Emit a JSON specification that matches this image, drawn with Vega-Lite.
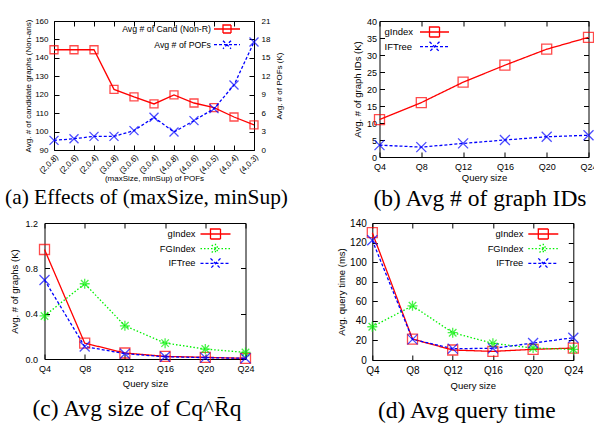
{
  "$schema": "https://vega.github.io/schema/vega-lite/v6.json",
  "padding": {"left": 4.5, "top": 16, "right": 0, "bottom": 0},
  "config": {
    "view": {"stroke": "black", "strokeWidth": 1},
    "font": "Liberation Sans",
    "axis": {"grid": false, "domain": false, "minExtent": 0, "tickColor": "black", "tickSize": -5, "labelPadding": 10, "labelFont": "Liberation Sans", "labelFontSize": 9, "labelColor": "black", "titleFont": "Liberation Sans", "titleFontSize": 9.5, "titleFontWeight": "normal", "titleColor": "black", "titlePadding": 4},
    "axisX": {"labelAngle": 0},
    "title": {"font": "Liberation Serif", "fontSize": 23.5, "fontWeight": "normal", "orient": "bottom", "color": "black", "frame": "group"},
    "legend": {"title": null, "labelFont": "Liberation Sans", "labelFontSize": 9.3, "labelColor": "black", "symbolSize": 100, "symbolStrokeWidth": 1.3, "rowPadding": -1.3, "padding": 0, "offset": 5}
  },
  "resolve": {"scale": {"color": "independent", "strokeDash": "independent", "shape": "independent"}, "legend": {"color": "independent"}},
  "spacing": 6,
  "vconcat": [
    {
      "resolve": {"scale": {"color": "independent", "strokeDash": "independent", "shape": "independent"}, "legend": {"color": "independent"}},
      "spacing": 63,
      "hconcat": [
        {
          "resolve": {"scale": {"color": "independent", "strokeDash": "independent", "shape": "independent"}, "legend": {"color": "independent"}},
          "spacing": -44.5,
          "hconcat": [
            {
              "width": 1, "height": 1,
              "view": {"stroke": null},
              "data": {"values": [{"v": 0}]},
              "mark": {"type": "point", "opacity": 0},
              "encoding": {}
            },
            {
              "width": 200, "height": 129,
              "title": {"text": "(a) Effects of (maxSize, minSup)", "fontSize": 21.4, "dx": -7.5, "offset": 5},
              "data": {"values": [
                {"k": "(2,0.8)", "s": "Avg # of Cand (Non-R)", "v": 144.4},
                {"k": "(2,0.6)", "s": "Avg # of Cand (Non-R)", "v": 144.4},
                {"k": "(2,0.4)", "s": "Avg # of Cand (Non-R)", "v": 144.4},
                {"k": "(3,0.8)", "s": "Avg # of Cand (Non-R)", "v": 122.9},
                {"k": "(3,0.6)", "s": "Avg # of Cand (Non-R)", "v": 118.8},
                {"k": "(3,0.4)", "s": "Avg # of Cand (Non-R)", "v": 115.0},
                {"k": "(4,0.8)", "s": "Avg # of Cand (Non-R)", "v": 119.9},
                {"k": "(4,0.6)", "s": "Avg # of Cand (Non-R)", "v": 115.5},
                {"k": "(4,0.5)", "s": "Avg # of Cand (Non-R)", "v": 113.0},
                {"k": "(4,0.4)", "s": "Avg # of Cand (Non-R)", "v": 107.9},
                {"k": "(4,0.3)", "s": "Avg # of Cand (Non-R)", "v": 103.6},
                {"k": "(2,0.8)", "s": "Avg # of POFs", "v": 1.57},
                {"k": "(2,0.6)", "s": "Avg # of POFs", "v": 1.84},
                {"k": "(2,0.4)", "s": "Avg # of POFs", "v": 2.22},
                {"k": "(3,0.8)", "s": "Avg # of POFs", "v": 2.22},
                {"k": "(3,0.6)", "s": "Avg # of POFs", "v": 3.15},
                {"k": "(3,0.4)", "s": "Avg # of POFs", "v": 5.32},
                {"k": "(4,0.8)", "s": "Avg # of POFs", "v": 2.93},
                {"k": "(4,0.6)", "s": "Avg # of POFs", "v": 4.78},
                {"k": "(4,0.5)", "s": "Avg # of POFs", "v": 6.73},
                {"k": "(4,0.4)", "s": "Avg # of POFs", "v": 10.58},
                {"k": "(4,0.3)", "s": "Avg # of POFs", "v": 17.58}
              ]},
              "encoding": {
                "color": {"field": "s", "type": "nominal", "sort": null,
                  "scale": {"domain": ["Avg # of Cand (Non-R)", "Avg # of POFs"], "range": ["#ff0000", "#0000ff"]},
                  "legend": {"orient": "top-right", "offset": 3, "labelFontSize": 8.75, "symbolSize": 64, "rowPadding": 1.7,
                    "encode": {
                      "symbols": {"update": {
                        "x": {"value": 106},
                        "shape": {"signal": "datum.value == 'Avg # of Cand (Non-R)' ? 'M-3.25,0H3.25M-1,-1H1V1H-1ZM5.25,0' : 'M-3.25,0H3.25M-1,-1L1,1M1,-1L-1,1M5.25,0'"},
                        "strokeDash": {"signal": "datum.value == 'Avg # of POFs' ? [3,2] : [1,0]"}
                      }},
                      "labels": {"update": {"x": {"value": 90}, "align": {"value": "right"}}}
                    }}
                }
              },
              "layer": [
                {
                  "transform": [{"filter": "datum.s == 'Avg # of Cand (Non-R)'"}],
                  "encoding": {
                    "x": {"field": "k", "type": "ordinal", "sort": null, "scale": {"type": "point", "padding": 0},
                      "axis": {"labelAngle": -45, "title": "(maxSize, minSup) of POFs", "labelFontSize": 8, "titleFontSize": 8, "labelPadding": 8, "titlePadding": -1}},
                    "y": {"field": "v", "type": "quantitative", "scale": {"domain": [90, 160]},
                      "axis": {"values": [90, 100, 110, 120, 130, 140, 150, 160], "title": "Avg. # of candidate graphs (Non-ans)", "labelFontSize": 8, "titleFontSize": 8, "labelPadding": 11, "titlePadding": 2.5}}
                  },
                  "layer": [
                    {"mark": {"type": "line", "strokeWidth": 1.3}},
                    {"mark": {"type": "point", "shape": "M-1,-1H1V1H-1Z", "filled": false, "size": 64, "strokeWidth": 1.3}}
                  ]
                },
                {
                  "transform": [{"filter": "datum.s == 'Avg # of POFs'"}],
                  "encoding": {
                    "x": {"field": "k", "type": "ordinal", "sort": null, "scale": {"type": "point", "padding": 0},
                      "axis": {"orient": "top", "labels": false, "title": null}},
                    "y": {"field": "v", "type": "quantitative", "scale": {"domain": [0, 21]},
                      "axis": {"orient": "right", "values": [0, 3, 6, 9, 12, 15, 18, 21], "title": "Avg. # of POFs (K)", "titleAngle": 270, "titleBaseline": "top", "labelFontSize": 8, "titleFontSize": 8, "labelPadding": 12, "titlePadding": 6}}
                  },
                  "layer": [
                    {"mark": {"type": "line", "strokeWidth": 1.3, "strokeDash": [3, 2]}},
                    {"mark": {"type": "point", "shape": "M-1,-1L1,1M1,-1L-1,1", "filled": false, "size": 81, "strokeWidth": 1.3}}
                  ]
                }
              ],
              "resolve": {"scale": {"y": "independent"}, "axis": {"x": "independent", "y": "independent"}}
            }
          ]
        },
        {
          "width": 209, "height": 136,
          "title": {"text": "(b) Avg # of graph IDs", "dx": -4, "offset": 5},
          "data": {"values": [
            {"q": "Q4", "s": "gIndex", "v": 11.0},
            {"q": "Q8", "s": "gIndex", "v": 16.0},
            {"q": "Q12", "s": "gIndex", "v": 22.0},
            {"q": "Q16", "s": "gIndex", "v": 27.0},
            {"q": "Q20", "s": "gIndex", "v": 31.7},
            {"q": "Q24", "s": "gIndex", "v": 35.2},
            {"q": "Q4", "s": "IFTree", "v": 3.5},
            {"q": "Q8", "s": "IFTree", "v": 2.9},
            {"q": "Q12", "s": "IFTree", "v": 4.0},
            {"q": "Q16", "s": "IFTree", "v": 5.0},
            {"q": "Q20", "s": "IFTree", "v": 5.95},
            {"q": "Q24", "s": "IFTree", "v": 6.4}
          ]},
          "encoding": {
            "color": {"field": "s", "type": "nominal", "sort": null,
              "scale": {"domain": ["gIndex", "IFTree"], "range": ["#ff0000", "#0000ff"]},
              "legend": {"orient": "top-left", "labelFontSize": 9.5,
                "encode": {
                  "symbols": {"update": {
                    "x": {"value": 50},
                    "shape": {"signal": "datum.value == 'gIndex' ? 'M-11.4,0M-2.9,0H2.9M-1,-1H1V1H-1Z' : 'M-11.4,0M-2.9,0H2.9M-1,-1L1,1M1,-1L-1,1'"},
                    "strokeDash": {"signal": "datum.value == 'IFTree' ? [3,2] : [1,0]"}
                  }},
                  "labels": {"update": {"x": {"value": 0}, "align": {"value": "left"}}}
                }}
            }
          },
          "layer": [
            {
              "mark": {"type": "line", "strokeWidth": 1.3},
              "encoding": {
                "x": {"field": "q", "type": "ordinal", "sort": null, "scale": {"type": "point", "padding": 0}, "axis": {"title": "Query size", "titlePadding": 1}},
                "y": {"field": "v", "type": "quantitative", "scale": {"domain": [0, 40]}, "axis": {"values": [0, 5, 10, 15, 20, 25, 30, 35, 40], "title": "Avg. # of graph IDs (K)", "labelPadding": 8, "titlePadding": 4}},
                "strokeDash": {"field": "s", "type": "nominal", "sort": null, "scale": {"domain": ["gIndex", "IFTree"], "range": [[1, 0], [3, 2]]}, "legend": null}
              }
            },
            {
              "transform": [{"filter": "datum.s == 'gIndex'"}],
              "mark": {"type": "point", "shape": "M-1,-1H1V1H-1Z", "filled": false, "size": 100, "strokeWidth": 1.3},
              "encoding": {
                "x": {"field": "q", "type": "ordinal", "sort": null, "scale": {"type": "point", "padding": 0}, "axis": {"orient": "top", "labels": false, "title": null}},
                "y": {"field": "v", "type": "quantitative", "scale": {"domain": [0, 40]}, "axis": {"orient": "right", "values": [0, 5, 10, 15, 20, 25, 30, 35, 40], "labels": false, "title": null}}
              }
            },
            {
              "transform": [{"filter": "datum.s == 'IFTree'"}],
              "mark": {"type": "point", "shape": "M-1,-1L1,1M1,-1L-1,1", "filled": false, "size": 100, "strokeWidth": 1.3},
              "encoding": {
                "x": {"field": "q", "type": "ordinal", "sort": null, "scale": {"type": "point", "padding": 0}, "axis": null},
                "y": {"field": "v", "type": "quantitative", "scale": {"domain": [0, 40]}, "axis": null}
              }
            }
          ],
          "resolve": {"axis": {"x": "independent", "y": "independent"}}
        }
      ]
    },
    {
      "resolve": {"scale": {"color": "independent", "strokeDash": "independent", "shape": "independent"}, "legend": {"color": "independent"}},
      "spacing": 79.8,
      "hconcat": [
        {
          "width": 201, "height": 136,
          "title": {"text": "(c) Avg size of Cq^R̄q", "dx": -8, "offset": 9},
          "data": {"values": [
            {"q": "Q4", "s": "gIndex", "v": 0.966},
            {"q": "Q8", "s": "gIndex", "v": 0.14},
            {"q": "Q12", "s": "gIndex", "v": 0.053},
            {"q": "Q16", "s": "gIndex", "v": 0.023},
            {"q": "Q20", "s": "gIndex", "v": 0.015},
            {"q": "Q24", "s": "gIndex", "v": 0.006},
            {"q": "Q4", "s": "FGIndex", "v": 0.38},
            {"q": "Q8", "s": "FGIndex", "v": 0.664},
            {"q": "Q12", "s": "FGIndex", "v": 0.293},
            {"q": "Q16", "s": "FGIndex", "v": 0.14},
            {"q": "Q20", "s": "FGIndex", "v": 0.088},
            {"q": "Q24", "s": "FGIndex", "v": 0.058},
            {"q": "Q4", "s": "IFTree", "v": 0.697},
            {"q": "Q8", "s": "IFTree", "v": 0.11},
            {"q": "Q12", "s": "IFTree", "v": 0.047},
            {"q": "Q16", "s": "IFTree", "v": 0.02},
            {"q": "Q20", "s": "IFTree", "v": 0.012},
            {"q": "Q24", "s": "IFTree", "v": 0.006}
          ]},
          "encoding": {
            "color": {"field": "s", "type": "nominal", "sort": null,
              "scale": {"domain": ["gIndex", "FGIndex", "IFTree"], "range": ["#ff0000", "#00f000", "#0000ff"]},
              "legend": {"orient": "top-right",
                "encode": {
                  "symbols": {"update": {
                    "x": {"value": 56},
                    "shape": {"signal": "datum.value == 'gIndex' ? 'M-3,0H3M-1,-1H1V1H-1ZM4.4,0' : datum.value == 'FGIndex' ? 'M-3,0H3M0,-1V1M-0.75,-0.75L0.75,0.75M-0.75,0.75L0.75,-0.75M4.4,0' : 'M-3,0H3M-1,-1L1,1M1,-1L-1,1M4.4,0'"},
                    "strokeDash": {"signal": "datum.value == 'IFTree' ? [3,2] : datum.value == 'FGIndex' ? [1.5,2] : [1,0]"}
                  }},
                  "labels": {"update": {"x": {"value": 36}, "align": {"value": "right"}}}
                }}
            }
          },
          "layer": [
            {
              "mark": {"type": "line", "strokeWidth": 1.3},
              "encoding": {
                "x": {"field": "q", "type": "ordinal", "sort": null, "scale": {"type": "point", "padding": 0}, "axis": {"title": "Query size", "titlePadding": 5}},
                "y": {"field": "v", "type": "quantitative", "scale": {"domain": [0, 1.2]}, "axis": {"values": [0, 0.4, 0.8, 1.2], "title": "Avg. # of graphs (K)", "labelPadding": 12, "titlePadding": 5}},
                "strokeDash": {"field": "s", "type": "nominal", "sort": null, "scale": {"domain": ["gIndex", "FGIndex", "IFTree"], "range": [[1, 0], [1.5, 2], [3, 2]]}, "legend": null}
              }
            },
            {
              "transform": [{"filter": "datum.s == 'gIndex'"}],
              "mark": {"type": "point", "shape": "M-1,-1H1V1H-1Z", "filled": false, "size": 100, "strokeWidth": 1.3},
              "encoding": {
                "x": {"field": "q", "type": "ordinal", "sort": null, "scale": {"type": "point", "padding": 0}, "axis": {"orient": "top", "labels": false, "title": null}},
                "y": {"field": "v", "type": "quantitative", "scale": {"domain": [0, 1.2]}, "axis": {"orient": "right", "values": [0, 0.4, 0.8, 1.2], "labels": false, "title": null}}
              }
            },
            {
              "transform": [{"filter": "datum.s == 'FGIndex'"}],
              "mark": {"type": "point", "shape": "M-1,0H1M0,-1V1M-0.75,-0.75L0.75,0.75M-0.75,0.75L0.75,-0.75", "filled": false, "size": 100, "strokeWidth": 1.3},
              "encoding": {
                "x": {"field": "q", "type": "ordinal", "sort": null, "scale": {"type": "point", "padding": 0}, "axis": null},
                "y": {"field": "v", "type": "quantitative", "scale": {"domain": [0, 1.2]}, "axis": null}
              }
            },
            {
              "transform": [{"filter": "datum.s == 'IFTree'"}],
              "mark": {"type": "point", "shape": "M-1,-1L1,1M1,-1L-1,1", "filled": false, "size": 100, "strokeWidth": 1.3},
              "encoding": {
                "x": {"field": "q", "type": "ordinal", "sort": null, "scale": {"type": "point", "padding": 0}, "axis": null},
                "y": {"field": "v", "type": "quantitative", "scale": {"domain": [0, 1.2]}, "axis": null}
              }
            }
          ],
          "resolve": {"axis": {"x": "independent", "y": "independent"}}
        },
        {
          "width": 201, "height": 137,
          "title": {"text": "(d) Avg query time", "dx": -6, "offset": 9},
          "data": {"values": [
            {"q": "Q4", "s": "gIndex", "v": 130.1},
            {"q": "Q8", "s": "gIndex", "v": 21.4},
            {"q": "Q12", "s": "gIndex", "v": 10.2},
            {"q": "Q16", "s": "gIndex", "v": 8.8},
            {"q": "Q20", "s": "gIndex", "v": 10.9},
            {"q": "Q24", "s": "gIndex", "v": 12.2},
            {"q": "Q4", "s": "FGIndex", "v": 34.0},
            {"q": "Q8", "s": "FGIndex", "v": 55.4},
            {"q": "Q12", "s": "FGIndex", "v": 27.9},
            {"q": "Q16", "s": "FGIndex", "v": 17.0},
            {"q": "Q20", "s": "FGIndex", "v": 12.2},
            {"q": "Q24", "s": "FGIndex", "v": 10.9},
            {"q": "Q4", "s": "IFTree", "v": 122.3},
            {"q": "Q8", "s": "IFTree", "v": 21.1},
            {"q": "Q12", "s": "IFTree", "v": 11.6},
            {"q": "Q16", "s": "IFTree", "v": 11.9},
            {"q": "Q20", "s": "IFTree", "v": 17.3},
            {"q": "Q24", "s": "IFTree", "v": 22.8}
          ]},
          "encoding": {
            "color": {"field": "s", "type": "nominal", "sort": null,
              "scale": {"domain": ["gIndex", "FGIndex", "IFTree"], "range": ["#ff0000", "#00f000", "#0000ff"]},
              "legend": {"orient": "top-right",
                "encode": {
                  "symbols": {"update": {
                    "x": {"value": 56},
                    "shape": {"signal": "datum.value == 'gIndex' ? 'M-3,0H3M-1,-1H1V1H-1ZM4.4,0' : datum.value == 'FGIndex' ? 'M-3,0H3M0,-1V1M-0.75,-0.75L0.75,0.75M-0.75,0.75L0.75,-0.75M4.4,0' : 'M-3,0H3M-1,-1L1,1M1,-1L-1,1M4.4,0'"},
                    "strokeDash": {"signal": "datum.value == 'IFTree' ? [3,2] : datum.value == 'FGIndex' ? [1.5,2] : [1,0]"}
                  }},
                  "labels": {"update": {"x": {"value": 36}, "align": {"value": "right"}}}
                }}
            }
          },
          "layer": [
            {
              "mark": {"type": "line", "strokeWidth": 1.3},
              "encoding": {
                "x": {"field": "q", "type": "ordinal", "sort": null, "scale": {"type": "point", "padding": 0}, "axis": {"title": "Query size", "labelFontSize": 10, "titlePadding": 5}},
                "y": {"field": "v", "type": "quantitative", "scale": {"domain": [0, 140]}, "axis": {"values": [0, 20, 40, 60, 80, 100, 120, 140], "title": "Avg. query time (ms)", "labelFontSize": 10, "labelPadding": 11, "titlePadding": 3.5}},
                "strokeDash": {"field": "s", "type": "nominal", "sort": null, "scale": {"domain": ["gIndex", "FGIndex", "IFTree"], "range": [[1, 0], [1.5, 2], [3, 2]]}, "legend": null}
              }
            },
            {
              "transform": [{"filter": "datum.s == 'gIndex'"}],
              "mark": {"type": "point", "shape": "M-1,-1H1V1H-1Z", "filled": false, "size": 100, "strokeWidth": 1.3},
              "encoding": {
                "x": {"field": "q", "type": "ordinal", "sort": null, "scale": {"type": "point", "padding": 0}, "axis": {"orient": "top", "labels": false, "title": null}},
                "y": {"field": "v", "type": "quantitative", "scale": {"domain": [0, 140]}, "axis": {"orient": "right", "values": [0, 20, 40, 60, 80, 100, 120, 140], "labels": false, "title": null}}
              }
            },
            {
              "transform": [{"filter": "datum.s == 'FGIndex'"}],
              "mark": {"type": "point", "shape": "M-1,0H1M0,-1V1M-0.75,-0.75L0.75,0.75M-0.75,0.75L0.75,-0.75", "filled": false, "size": 100, "strokeWidth": 1.3},
              "encoding": {
                "x": {"field": "q", "type": "ordinal", "sort": null, "scale": {"type": "point", "padding": 0}, "axis": null},
                "y": {"field": "v", "type": "quantitative", "scale": {"domain": [0, 140]}, "axis": null}
              }
            },
            {
              "transform": [{"filter": "datum.s == 'IFTree'"}],
              "mark": {"type": "point", "shape": "M-1,-1L1,1M1,-1L-1,1", "filled": false, "size": 100, "strokeWidth": 1.3},
              "encoding": {
                "x": {"field": "q", "type": "ordinal", "sort": null, "scale": {"type": "point", "padding": 0}, "axis": null},
                "y": {"field": "v", "type": "quantitative", "scale": {"domain": [0, 140]}, "axis": null}
              }
            }
          ],
          "resolve": {"axis": {"x": "independent", "y": "independent"}}
        }
      ]
    }
  ]
}
